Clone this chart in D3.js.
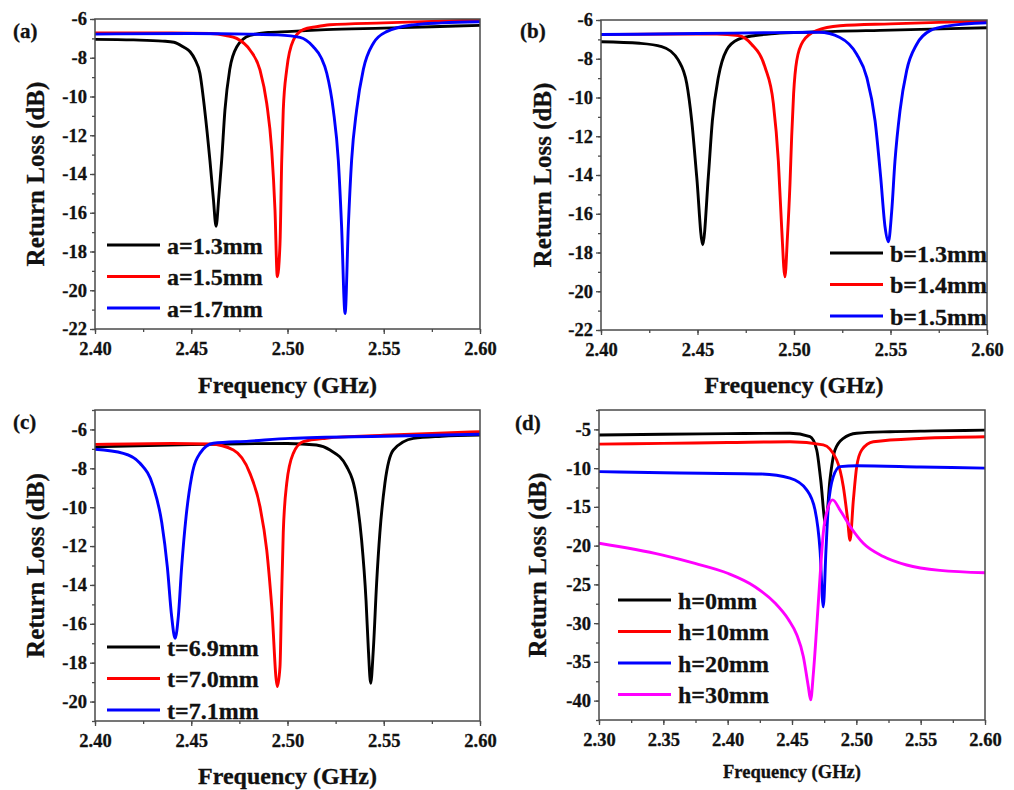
<!DOCTYPE html>
<html lang="en">
<head>
<meta charset="UTF-8" />
<title>Return Loss parametric study</title>
<script src="https://d3js.org/d3.v7.min.js"></script>
<style>
  body { margin: 0; background: #fff; }
  svg { display: block; font-family: "Liberation Serif", "Times New Roman", serif; font-weight: bold; }
  svg text { stroke: #111; stroke-width: 0.3; }
  .frame { fill: none; stroke: #4a4a4a; stroke-width: 1.5; }
  .axis path { display: none; }
  .axis line { stroke: #4a4a4a; stroke-width: 1.3; }
  .curve { fill: none; stroke-width: 2.9; stroke-linejoin: round; }
</style>
</head>
<body>
<svg id="chart" width="1014" height="790"></svg>
<script>
// ---- data: [frequency GHz, return loss dB] ----
const a13 = [[2.400,-7.05],[2.420,-7.08],[2.435,-7.14],[2.441,-7.2],[2.446,-7.45],[2.4494,-7.69],[2.452,-8.1],[2.4545,-8.8],[2.457,-10.7],[2.4597,-13.3],[2.4615,-15.3],[2.4629,-16.7],[2.4643,-15.2],[2.4658,-13.3],[2.4675,-10.7],[2.470,-8.6],[2.4736,-7.45],[2.4805,-6.85],[2.490,-6.7],[2.500,-6.65],[2.520,-6.55],[2.550,-6.47],[2.575,-6.4],[2.600,-6.33]];
const a15 = [[2.400,-6.72],[2.440,-6.72],[2.460,-6.75],[2.468,-6.85],[2.4736,-7.0],[2.4805,-7.6],[2.4857,-8.63],[2.4892,-10.35],[2.4918,-12.76],[2.4935,-15.86],[2.4947,-19.3],[2.4961,-17.6],[2.497,-13.3],[2.4978,-10.7],[2.4996,-8.6],[2.503,-7.1],[2.5082,-6.55],[2.515,-6.4],[2.522,-6.3],[2.550,-6.2],[2.575,-6.12],[2.600,-6.05]];
const a17 = [[2.400,-6.78],[2.450,-6.75],[2.480,-6.78],[2.495,-6.82],[2.5065,-6.95],[2.5134,-7.43],[2.5175,-8.0],[2.5204,-8.8],[2.5238,-10.7],[2.5264,-13.3],[2.5281,-16.7],[2.5299,-21.2],[2.5316,-16.7],[2.5333,-13.3],[2.5359,-10.7],[2.5394,-8.6],[2.5446,-7.25],[2.5515,-6.65],[2.5653,-6.3],[2.580,-6.2],[2.600,-6.14]];

const b13 = [[2.400,-7.12],[2.420,-7.2],[2.4314,-7.37],[2.436,-7.6],[2.440,-8.06],[2.4444,-9.27],[2.447,-11.2],[2.4496,-14.1],[2.4527,-17.6],[2.4556,-14.1],[2.4577,-11.2],[2.4608,-8.96],[2.4651,-7.55],[2.4711,-7.0],[2.480,-6.8],[2.490,-6.7],[2.510,-6.62],[2.550,-6.52],[2.600,-6.4]];
const b14 = [[2.400,-6.75],[2.440,-6.72],[2.460,-6.72],[2.4711,-6.8],[2.478,-7.25],[2.485,-8.44],[2.4893,-10.3],[2.4919,-13.3],[2.4936,-16.7],[2.4953,-19.25],[2.4966,-17.2],[2.4979,-14.5],[2.4988,-12.0],[2.4998,-9.8],[2.5014,-8.1],[2.5048,-7.08],[2.5117,-6.55],[2.5238,-6.3],[2.550,-6.2],[2.575,-6.12],[2.600,-6.05]];
const b15 = [[2.400,-6.75],[2.450,-6.7],[2.490,-6.65],[2.513,-6.63],[2.5238,-6.9],[2.5325,-7.77],[2.5377,-8.96],[2.542,-11.2],[2.5449,-14.1],[2.5472,-16.7],[2.5489,-17.45],[2.5506,-15.9],[2.5523,-13.3],[2.5549,-10.7],[2.5584,-8.6],[2.5636,-7.25],[2.5705,-6.55],[2.580,-6.3],[2.600,-6.14]];

const t69 = [[2.400,-6.9],[2.450,-6.78],[2.500,-6.72],[2.515,-6.8],[2.5221,-7.06],[2.5308,-7.92],[2.536,-9.63],[2.5385,-11.7],[2.5408,-14.8],[2.542,-17.3],[2.5432,-19.06],[2.5446,-17.3],[2.5463,-13.9],[2.548,-11.3],[2.5506,-8.77],[2.555,-7.06],[2.5654,-6.46],[2.580,-6.35],[2.600,-6.29]];
const t70 = [[2.400,-6.77],[2.440,-6.72],[2.460,-6.75],[2.4719,-7.06],[2.4805,-8.26],[2.4857,-9.97],[2.4892,-12.2],[2.4918,-15.1],[2.4947,-19.23],[2.4961,-18.2],[2.4969,-14.8],[2.4978,-11.3],[2.4996,-8.77],[2.503,-7.23],[2.5082,-6.63],[2.520,-6.45],[2.550,-6.3],[2.575,-6.2],[2.600,-6.12]];
const t71 = [[2.400,-7.02],[2.4147,-7.23],[2.4234,-7.74],[2.4303,-8.94],[2.4347,-10.8],[2.4376,-13.1],[2.4398,-15.6],[2.4416,-16.75],[2.4433,-15.6],[2.445,-13.1],[2.4473,-10.5],[2.4502,-8.43],[2.4545,-7.23],[2.4614,-6.71],[2.480,-6.6],[2.5013,-6.46],[2.550,-6.35],[2.600,-6.25]];

const h0  = [[2.300,-5.73],[2.350,-5.62],[2.400,-5.55],[2.4484,-5.5],[2.464,-5.94],[2.4692,-7.66],[2.4723,-11.5],[2.4762,-17.3],[2.4795,-11.5],[2.4834,-7.66],[2.4899,-6.15],[2.5003,-5.5],[2.5262,-5.3],[2.560,-5.2],[2.600,-5.1]];
const h10 = [[2.300,-6.9],[2.350,-6.8],[2.400,-6.7],[2.4484,-6.6],[2.4743,-7.0],[2.4847,-8.95],[2.4899,-12.4],[2.493,-16.3],[2.4951,-19.3],[2.4977,-14.1],[2.5003,-9.8],[2.5042,-7.66],[2.5132,-6.6],[2.5521,-6.15],[2.600,-5.95]];
const h20 = [[2.300,-10.45],[2.350,-10.6],[2.4264,-10.76],[2.4484,-11.3],[2.4614,-12.8],[2.4679,-15.4],[2.4718,-20.6],[2.4743,-27.9],[2.4764,-20.6],[2.4782,-15.0],[2.4821,-11.1],[2.4873,-9.8],[2.5003,-9.7],[2.550,-9.85],[2.600,-10.0]];
const h30 = [[2.300,-19.7],[2.3487,-21.2],[2.3746,-22.3],[2.4005,-23.6],[2.4212,-25.3],[2.4368,-27.4],[2.4471,-29.5],[2.4537,-31.5],[2.4588,-34.3],[2.4627,-38.2],[2.4645,-39.9],[2.4666,-36.5],[2.4692,-30.5],[2.4718,-24.0],[2.4743,-18.4],[2.4782,-15.0],[2.4816,-14.1],[2.4873,-15.4],[2.4951,-17.5],[2.5054,-19.7],[2.521,-21.4],[2.5391,-22.5],[2.565,-23.2],[2.600,-23.5]];

const labelsA = ["a=1.3mm", "a=1.5mm", "a=1.7mm"];
const labelsB = ["b=1.3mm", "b=1.4mm", "b=1.5mm"];
const labelsC = ["t=6.9mm", "t=7.0mm", "t=7.1mm"];
const labelsD = ["h=0mm", "h=10mm", "h=20mm", "h=30mm"];
const colors3 = ["#000000", "#ff0000", "#0000ff"];
const colors4 = ["#000000", "#ff0000", "#0000ff", "#ff00ff"];

const ticks240 = [2.40, 2.45, 2.50, 2.55, 2.60];
const ticks230 = [2.30, 2.35, 2.40, 2.45, 2.50, 2.55, 2.60];

const svg = d3.select("#chart");

const panels = [
  { tag: "(a)", tagX: 13, tagY: 38, x0: 95, x1: 480, y0: 19, y1: 329,
    xDom: [2.40, 2.60], xTicks: ticks240, yDom: [-22, -6], yTicks: d3.range(-22, -5, 2), yMinor: 1,
    series: [a13, a15, a17], labels: labelsA, colors: colors3,
    legX: 107, legY: 245, yTitleX: 35, xTitleY: 393, xTitleSize: 24 },
  { tag: "(b)", tagX: 520, tagY: 38, x0: 601, x1: 987, y0: 20, y1: 330,
    xDom: [2.40, 2.60], xTicks: ticks240, yDom: [-22, -6], yTicks: d3.range(-22, -5, 2), yMinor: 1,
    series: [b13, b14, b15], labels: labelsB, colors: colors3,
    legX: 830, legY: 253, yTitleX: 542, xTitleY: 393, xTitleSize: 24 },
  { tag: "(c)", tagX: 13, tagY: 429, x0: 95, x1: 480, y0: 410, y1: 721,
    xDom: [2.40, 2.60], xTicks: ticks240, yDom: [-21, -5], yTicks: d3.range(-20, -5, 2), yMinor: 1,
    series: [t69, t70, t71], labels: labelsC, colors: colors3,
    legX: 107, legY: 647, yTitleX: 35, xTitleY: 784, xTitleSize: 24 },
  { tag: "(d)", tagX: 515, tagY: 430, x0: 599, x1: 985, y0: 410, y1: 720,
    xDom: [2.30, 2.60], xTicks: ticks230, yDom: [-42.5, -2.5], yTicks: d3.range(-40, -4, 5), yMinor: 2.5,
    series: [h0, h10, h20, h30], labels: labelsD, colors: colors4,
    legX: 618, legY: 600, yTitleX: 537, xTitleY: 778, xTitleSize: 18.5 }
];

const fmt = d => String(d);

// drop d3's default sans-serif 10px so the serif bold style is inherited
function styleAxis(sel) {
  sel.attr("font-family", null).attr("font-size", null);
  sel.selectAll("text")
    .style("font-family", '"Liberation Serif", "Times New Roman", serif')
    .style("font-weight", "bold")
    .style("font-size", "18.5px")
    .style("fill", "#111");
}

panels.forEach((p, pi) => {
  const x = d3.scaleLinear().domain(p.xDom).range([p.x0, p.x1]);
  const y = d3.scaleLinear().domain(p.yDom).range([p.y1, p.y0]);
  const g = svg.append("g");

  // minor ticks
  const xMinor = d3.range(p.xDom[0], p.xDom[1] + 1e-9, 0.025);
  g.append("g").attr("class", "axis").attr("transform", `translate(0,${p.y1})`)
    .call(d3.axisBottom(x).tickValues(xMinor).tickSize(3).tickFormat(""));
  const yMin = [];
  for (let v = Math.ceil(p.yDom[0] / p.yMinor) * p.yMinor; v <= p.yDom[1] + 1e-9; v += p.yMinor) yMin.push(v);
  g.append("g").attr("class", "axis").attr("transform", `translate(${p.x0},0)`)
    .call(d3.axisLeft(y).tickValues(yMin).tickSize(3).tickFormat(""));

  // major ticks
  g.append("g").attr("class", "axis").attr("transform", `translate(0,${p.y1})`)
    .call(d3.axisBottom(x).tickValues(p.xTicks).tickSize(5).tickPadding(8).tickFormat(d3.format(".2f")))
    .call(styleAxis);
  g.append("g").attr("class", "axis").attr("transform", `translate(${p.x0},0)`)
    .call(d3.axisLeft(y).tickValues(p.yTicks).tickSize(5).tickPadding(3).tickFormat(fmt))
    .call(styleAxis);

  // curves
  const clipId = "clip" + pi;
  svg.append("clipPath").attr("id", clipId).append("rect")
    .attr("x", p.x0).attr("y", p.y0).attr("width", p.x1 - p.x0).attr("height", p.y1 - p.y0);
  const line = d3.line().x(d => x(d[0])).y(d => y(d[1])).curve(d3.curveMonotoneX);
  g.append("g").attr("clip-path", `url(#${clipId})`)
    .selectAll("path").data(p.series).join("path")
    .attr("class", "curve")
    .attr("stroke", (d, i) => p.colors[i])
    .attr("d", line);

  g.append("rect").attr("class", "frame")
    .attr("x", p.x0).attr("y", p.y0).attr("width", p.x1 - p.x0).attr("height", p.y1 - p.y0);

  // legend
  const leg = g.append("g").attr("transform", `translate(${p.legX},${p.legY})`);
  p.labels.forEach((lab, i) => {
    const row = leg.append("g").attr("transform", `translate(0,${i * 31.5})`);
    row.append("line").attr("x1", 0).attr("x2", 53).attr("y1", 0).attr("y2", 0)
      .attr("stroke", p.colors[i]).attr("stroke-width", 3.2);
    row.append("text").attr("x", 60).attr("y", 8.5)
      .attr("font-size", 24).attr("fill", "#111").text(lab);
  });

  // titles
  g.append("text").attr("x", p.tagX).attr("y", p.tagY).attr("font-size", 21).attr("fill", "#111").text(p.tag);
  g.append("text")
    .attr("transform", `translate(${p.yTitleX},${(p.y0 + p.y1) / 2}) rotate(-90)`)
    .attr("text-anchor", "middle").attr("dy", "0.35em")
    .attr("font-size", 25).attr("fill", "#111").text("Return Loss (dB)");
  g.append("text")
    .attr("x", (p.x0 + p.x1) / 2).attr("y", p.xTitleY)
    .attr("text-anchor", "middle").attr("font-size", p.xTitleSize).attr("fill", "#111")
    .text("Frequency (GHz)");
});
</script>
</body>
</html>
